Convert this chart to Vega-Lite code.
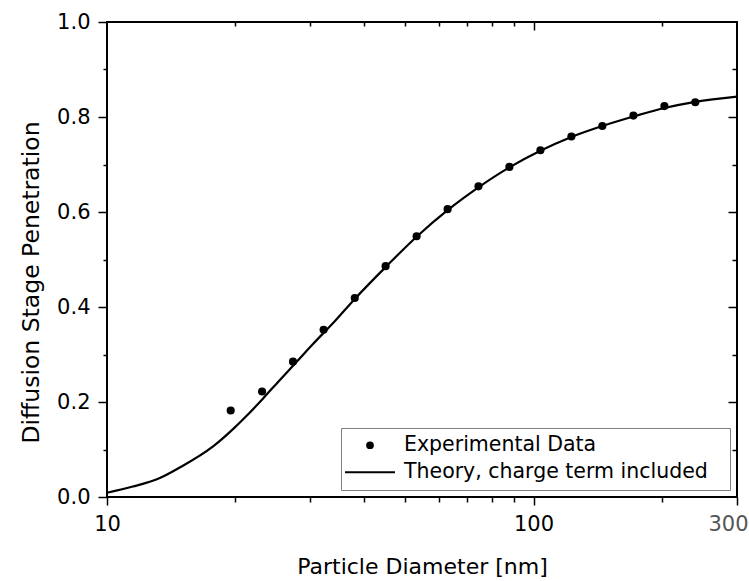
{
  "$schema": "https://vega.github.io/schema/vega-lite/v6.json",
  "width": 630,
  "height": 475,
  "autosize": {"type": "none"},
  "padding": {"left": 107, "top": 22, "right": 12, "bottom": 84},
  "background": "white",
  "config": {
    "view": {"stroke": "black", "strokeWidth": 2},
    "axis": {"grid": false, "domain": false, "labelFont": "DejaVu Sans", "titleFont": "DejaVu Sans", "labelColor": "black", "titleColor": "black", "tickColor": "black", "tickWidth": 1.5, "titleFontWeight": "normal"},
    "legend": {"labelFont": "DejaVu Sans"}
  },
  "datasets": {
    "exp": [
      {"d": 19.5, "p": 0.182, "series": "Experimental Data"},
      {"d": 23.1, "p": 0.222, "series": "Experimental Data"},
      {"d": 27.3, "p": 0.285, "series": "Experimental Data"},
      {"d": 32.2, "p": 0.352, "series": "Experimental Data"},
      {"d": 38.1, "p": 0.419, "series": "Experimental Data"},
      {"d": 45.0, "p": 0.486, "series": "Experimental Data"},
      {"d": 53.2, "p": 0.549, "series": "Experimental Data"},
      {"d": 62.9, "p": 0.606, "series": "Experimental Data"},
      {"d": 74.3, "p": 0.654, "series": "Experimental Data"},
      {"d": 87.8, "p": 0.695, "series": "Experimental Data"},
      {"d": 103.8, "p": 0.730, "series": "Experimental Data"},
      {"d": 122.7, "p": 0.759, "series": "Experimental Data"},
      {"d": 145.0, "p": 0.781, "series": "Experimental Data"},
      {"d": 171.5, "p": 0.803, "series": "Experimental Data"},
      {"d": 202.7, "p": 0.823, "series": "Experimental Data"},
      {"d": 239.5, "p": 0.831, "series": "Experimental Data"}
    ],
    "theory": [
      {"d": 10, "p": 0.009},
      {"d": 11.5, "p": 0.022},
      {"d": 13.3, "p": 0.040},
      {"d": 14.8, "p": 0.062},
      {"d": 17.7, "p": 0.106},
      {"d": 19.8, "p": 0.144},
      {"d": 21.2, "p": 0.170},
      {"d": 23.2, "p": 0.207},
      {"d": 25.4, "p": 0.246},
      {"d": 27.8, "p": 0.284},
      {"d": 30.4, "p": 0.322},
      {"d": 34.2, "p": 0.370},
      {"d": 38.1, "p": 0.417},
      {"d": 45.0, "p": 0.484},
      {"d": 53.2, "p": 0.548},
      {"d": 62.9, "p": 0.604},
      {"d": 74.3, "p": 0.652},
      {"d": 87.8, "p": 0.694},
      {"d": 103.8, "p": 0.729},
      {"d": 122.7, "p": 0.758},
      {"d": 145.0, "p": 0.781},
      {"d": 171.5, "p": 0.801},
      {"d": 202.7, "p": 0.819},
      {"d": 239.5, "p": 0.832},
      {"d": 300, "p": 0.843}
    ]
  },
  "layer": [
    {
      "data": {"name": "theory"},
      "mark": {"type": "line", "color": "black", "strokeWidth": 2.2, "interpolate": "monotone"},
      "encoding": {
        "x": {
          "field": "d", "type": "quantitative",
          "scale": {"type": "log", "domain": [10, 300], "nice": false},
          "axis": {
            "orient": "bottom",
            "values": [10, 20, 30, 40, 50, 60, 70, 80, 90, 100, 200, 300],
            "format": "d",
            "labelExpr": "datum.value == 10 || datum.value == 100 || datum.value == 300 ? datum.label : ''",
            "labelOverlap": false,
            "labelFlush": false,
            "tickSize": {"condition": {"test": "datum.value == 10 || datum.value == 100 || datum.value == 300", "value": 8}, "value": 5},
            "labelPadding": 8,
            "labelFontSize": 21,
            "labelColor": {"condition": {"test": "datum.value == 300", "value": "#555555"}, "value": "black"},
            "labelOffset": {"condition": {"test": "datum.value == 300", "value": -9}, "value": 0},
            "title": "Particle Diameter [nm]",
            "titleFontSize": 22,
            "titlePadding": 22
          }
        },
        "y": {
          "field": "p", "type": "quantitative",
          "scale": {"domain": [0, 1], "nice": false},
          "axis": {
            "orient": "left",
            "values": [0, 0.1, 0.2, 0.3, 0.4, 0.5, 0.6, 0.7, 0.8, 0.9, 1.0],
            "format": ".1f",
            "labelExpr": "indexof(['0.0','0.2','0.4','0.6','0.8','1.0'], datum.label) >= 0 ? datum.label : ''",
            "labelOverlap": false,
            "labelFlush": false,
            "tickSize": {"condition": {"test": "abs(datum.value * 5 - round(datum.value * 5)) < 0.001", "value": 9}, "value": 4},
            "labelPadding": 8,
            "labelFontSize": 21,
            "title": "Diffusion Stage Penetration",
            "titleFontSize": 23.5,
            "titlePadding": 13,
            "titleY": 260
          }
        }
      }
    },
    {
      "data": {"name": "exp"},
      "mark": {"type": "point", "filled": true, "color": "black", "opacity": 1, "size": 66},
      "encoding": {
        "x": {
          "field": "d", "type": "quantitative",
          "axis": {
            "orient": "top",
            "values": [20, 30, 40, 50, 60, 70, 80, 90, 100, 200],
            "labels": false,
            "title": null,
            "tickSize": {"condition": {"test": "datum.value == 100", "value": -8}, "value": -4}
          }
        },
        "y": {
          "field": "p", "type": "quantitative",
          "axis": {
            "orient": "right",
            "values": [0.1, 0.2, 0.3, 0.4, 0.5, 0.6, 0.7, 0.8, 0.9],
            "labels": false,
            "title": null,
            "tickSize": {"condition": {"test": "abs(datum.value * 5 - round(datum.value * 5)) < 0.001", "value": -9}, "value": -5}
          }
        },
        "shape": {
          "field": "series", "type": "nominal",
          "scale": {"domain": ["Experimental Data", "Theory, charge term included"], "range": ["circle", "M-6.46,-0.28H6.46V0.28H-6.46Z"]},
          "legend": {
            "title": null,
            "orient": "bottom-right",
            "offset": 7,
            "padding": 7,
            "strokeColor": "#808080",
            "fillColor": "white",
            "labelFontSize": 20.5,
            "labelColor": "black",
            "labelLimit": 500,
            "symbolSize": 60,
            "symbolFillColor": "black",
            "symbolOffset": 11.75,
            "labelOffset": 23.75,
            "rowPadding": 6,
            "labelExpr": "datum.label + '\u2800'"
          }
        }
      }
    }
  ],
  "resolve": {"axis": {"x": "independent", "y": "independent"}}
}
